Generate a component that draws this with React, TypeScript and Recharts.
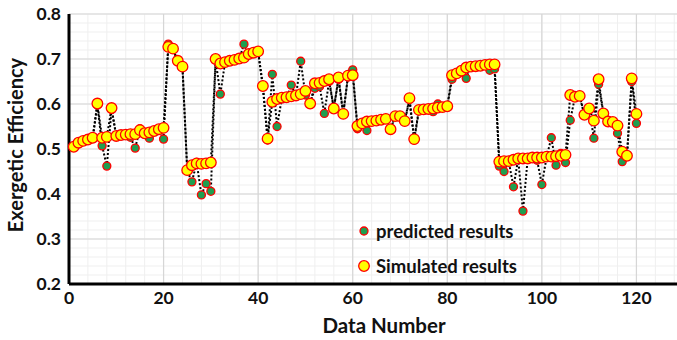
import React from "react";
import {
  LineChart,
  Line,
  XAxis,
  YAxis,
  CartesianGrid,
} from "recharts";

// values, data numbers 1..120
const simulated = [
  0.505, 0.514, 0.518, 0.521, 0.525, 0.601, 0.525, 0.527, 0.591, 0.529,
  0.531, 0.532, 0.533, 0.533, 0.542, 0.535, 0.537, 0.54, 0.544, 0.547,
  0.727, 0.723, 0.696, 0.683, 0.453, 0.464, 0.468, 0.467, 0.468, 0.47,
  0.7, 0.69, 0.693, 0.696, 0.698, 0.701, 0.703, 0.711, 0.714, 0.717,
  0.64, 0.523, 0.605, 0.611, 0.614, 0.615, 0.617, 0.619, 0.622, 0.629,
  0.601, 0.646, 0.647, 0.651, 0.655, 0.59, 0.659, 0.578, 0.663, 0.664,
  0.551, 0.557, 0.561, 0.562, 0.563, 0.565, 0.567, 0.544, 0.573, 0.573,
  0.562, 0.613, 0.522, 0.587, 0.588, 0.589, 0.59, 0.592, 0.593, 0.595,
  0.664, 0.668, 0.674, 0.681, 0.683, 0.684, 0.685, 0.687, 0.688, 0.688,
  0.472, 0.473, 0.473, 0.476, 0.479, 0.479, 0.479, 0.481, 0.481, 0.481,
  0.483, 0.483, 0.484, 0.485, 0.487, 0.62, 0.616, 0.618, 0.576, 0.59,
  0.563, 0.655, 0.579, 0.561, 0.56, 0.552, 0.494, 0.485, 0.657, 0.578,
];

const predicted = [
  0.505, 0.512, 0.517, 0.52, 0.523, 0.598, 0.507, 0.462, 0.588, 0.528,
  0.53, 0.531, 0.526, 0.502, 0.545, 0.534, 0.524, 0.539, 0.543, 0.522,
  0.733, 0.722, 0.694, 0.682, 0.452, 0.427, 0.47, 0.398, 0.423, 0.406,
  0.698, 0.622, 0.692, 0.695, 0.697, 0.7, 0.733, 0.71, 0.713, 0.716,
  0.638, 0.52, 0.666, 0.55, 0.612, 0.614, 0.642, 0.618, 0.695, 0.62,
  0.6, 0.635, 0.639, 0.579, 0.65, 0.59, 0.655, 0.578, 0.66, 0.676,
  0.545, 0.556, 0.541, 0.561, 0.562, 0.564, 0.566, 0.545, 0.572, 0.572,
  0.561, 0.61, 0.52, 0.585, 0.587, 0.588, 0.583, 0.6, 0.592, 0.594,
  0.655, 0.667, 0.673, 0.657, 0.682, 0.683, 0.684, 0.686, 0.675, 0.678,
  0.462, 0.45, 0.472, 0.416, 0.478, 0.362, 0.478, 0.48, 0.475, 0.421,
  0.482, 0.525, 0.464, 0.49, 0.47, 0.564, 0.615, 0.617, 0.575, 0.589,
  0.524, 0.644, 0.578, 0.56, 0.559, 0.535, 0.472, 0.484, 0.65, 0.557,
];

const xTicks = [0, 20, 40, 60, 80, 100, 120];
const xMajor = [0, 20, 40, 60, 80, 100, 120, 140];
const yTicks = [0.2, 0.3, 0.4, 0.5, 0.6, 0.7, 0.8];
const xMinor = Array.from({ length: 36 }, (_, i) => i * 4);
const yMinor = Array.from({ length: 31 }, (_, i) => 0.2 + i * 0.02);

const rows = simulated.map((s, i) => ({ n: i + 1, sim: s, pred: predicted[i] }));

const FONT = "Lato, 'Open Sans', sans-serif";
const TICK = { fontSize: 17.5, fontWeight: 700, fill: "#111", fontFamily: FONT };

function LegendBox() {
  const item = (fill: string, r: number, text: string) => (
    <div style={{ display: "flex", alignItems: "center", height: 35 }}>
      <svg width={18} height={18} style={{ marginRight: 3 }}>
        <circle cx={9} cy={9} r={r} fill={fill} stroke="#ff0000" strokeWidth={1.3} />
      </svg>
      <span style={{ fontFamily: FONT, fontWeight: 700, fontSize: 18.5, color: "#111" }}>{text}</span>
    </div>
  );
  return (
    <div style={{ position: "absolute", left: 355, top: 213 }}>
      {item("#1f9e50", 4, "predicted results")}
      {item("#ffff00", 5.3, "Simulated results")}
    </div>
  );
}

export default function App() {
  return (
    <div style={{ position: "absolute", left: 0, top: 0, width: 677, height: 340, overflow: "hidden", background: "#fff" }}>
      <LineChart width={735} height={340} data={rows} margin={{ top: 14, right: 4, bottom: 0, left: 0 }}>
        <CartesianGrid stroke="#efefef" verticalValues={xMinor} horizontalValues={yMinor} />
        <CartesianGrid stroke="#d6d6d6" strokeWidth={1.2} verticalValues={xMajor} horizontalValues={yTicks} />
        <XAxis
          type="number"
          dataKey="n"
          domain={[0, 140]}
          ticks={xTicks}
          interval={0}
          tick={TICK}
          tickLine={false}
          axisLine={{ stroke: "#000", strokeWidth: 3 }}
          height={56}
          label={{ value: "Data Number", position: "center", dx: -16, dy: 14, style: { fontFamily: FONT, fontWeight: 700, fontSize: 20.5, fill: "#111" } }}
        />
        <YAxis
          type="number"
          domain={[0.2, 0.8]}
          ticks={yTicks}
          interval={0}
          width={69}
          tick={TICK}
          tickLine={false}
          tickFormatter={(v: number) => v.toFixed(1)}
          axisLine={{ stroke: "#000", strokeWidth: 3 }}
          label={{ value: "Exergetic Efficiency", angle: -90, position: "center", dx: -19, dy: -4, style: { fontFamily: FONT, fontWeight: 700, fontSize: 20, fill: "#111", textAnchor: "middle" } }}
        />
        <Line
          dataKey="pred"
          name="predicted results"
          stroke="#000"
          strokeWidth={2}
          strokeDasharray="2 2"
          dot={{ r: 4, fill: "#1f9e50", stroke: "#ff0000", strokeWidth: 1.3, strokeDasharray: "none" }}
          isAnimationActive={false}
        />
        <Line
          dataKey="sim"
          name="Simulated results"
          stroke="#000"
          strokeWidth={2}
          strokeDasharray="2 2"
          dot={{ r: 5.3, fill: "#ffff00", stroke: "#ff0000", strokeWidth: 1.3, strokeDasharray: "none" }}
          isAnimationActive={false}
        />
      </LineChart>
      <LegendBox />
    </div>
  );
}
